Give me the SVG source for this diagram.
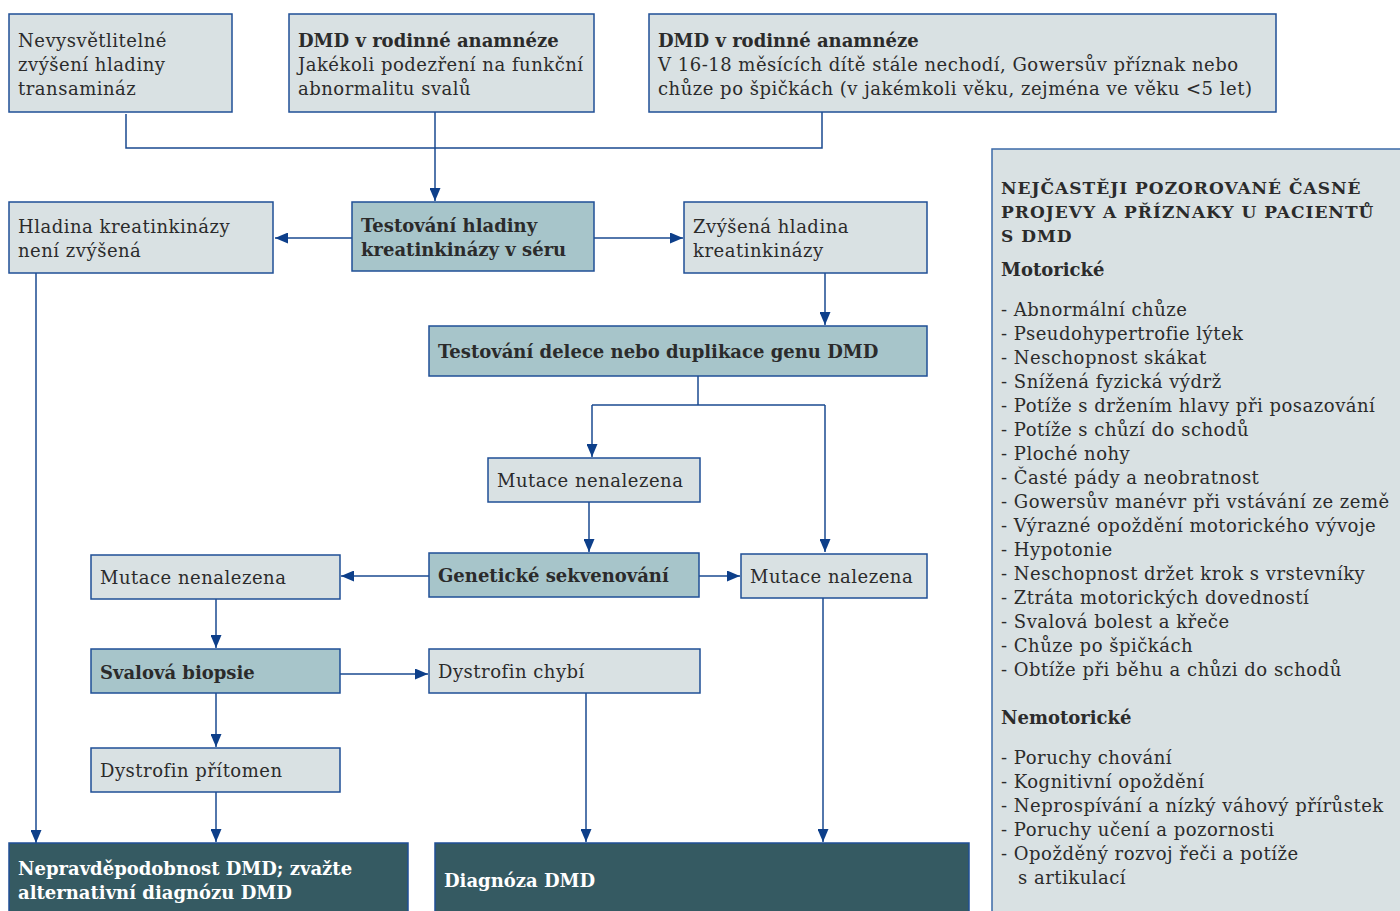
<svg xmlns="http://www.w3.org/2000/svg" width="1400" height="911" viewBox="0 0 1400 911">
<style>
text{font-family:"DejaVu Serif","Liberation Serif",serif;font-size:18px;letter-spacing:0.5px;fill:#2b2b2b}
.b{font-weight:bold;letter-spacing:0}
.w{fill:#ffffff;font-weight:bold;letter-spacing:0}
.l{fill:#d9e1e3;stroke:#1f4f96;stroke-width:1.5}
.m{fill:#a7c5ca;stroke:#1f4f96;stroke-width:1.5}
.d{fill:#355a62;stroke:#1f4f96;stroke-width:1.5}
.c{fill:none;stroke:#1a4a90;stroke-width:1.5}
.t{font-weight:bold;letter-spacing:1px;font-size:17px}
</style>
<defs>
<marker id="ar" viewBox="0 0 13 11" refX="13" refY="5.5" markerWidth="13" markerHeight="11" markerUnits="userSpaceOnUse" orient="auto">
<path d="M0,0 L13,5.5 L0,11 z" fill="#0d3f8a"/>
</marker>
</defs>
<rect width="1400" height="911" fill="#ffffff"/>
<g id="connectors">
<path class="c" d="M126,114 V148 H822 V112"/>
<path class="c" d="M435,112 V201" marker-end="url(#ar)"/>
<path class="c" d="M352,238 H275" marker-end="url(#ar)"/>
<path class="c" d="M594,238 H683" marker-end="url(#ar)"/>
<path class="c" d="M36,273 V843" marker-end="url(#ar)"/>
<path class="c" d="M825,273 V325" marker-end="url(#ar)"/>
<path class="c" d="M698,376 V405"/>
<path class="c" d="M592,405 H825"/>
<path class="c" d="M592,405 V457" marker-end="url(#ar)"/>
<path class="c" d="M825,405 V552" marker-end="url(#ar)"/>
<path class="c" d="M589,502 V552" marker-end="url(#ar)"/>
<path class="c" d="M429,576 H341" marker-end="url(#ar)"/>
<path class="c" d="M699,576 H740" marker-end="url(#ar)"/>
<path class="c" d="M216,599 V648" marker-end="url(#ar)"/>
<path class="c" d="M340,674 H428" marker-end="url(#ar)"/>
<path class="c" d="M216,693 V747" marker-end="url(#ar)"/>
<path class="c" d="M216,792 V842" marker-end="url(#ar)"/>
<path class="c" d="M586,693 V842" marker-end="url(#ar)"/>
<path class="c" d="M823,598 V842" marker-end="url(#ar)"/>
</g>
<g id="n1"><rect class="l" x="9" y="14" width="223" height="98"/>
<text x="18" y="47">Nevysvětlitelné</text><text x="18" y="71">zvýšení hladiny</text><text x="18" y="95">transamináz</text></g>
<g id="n2"><rect class="l" x="289" y="14" width="305" height="98"/>
<text x="298" y="47" class="b">DMD v rodinné anamnéze</text><text x="298" y="71">Jakékoli podezření na funkční</text><text x="298" y="95">abnormalitu svalů</text></g>
<g id="n3"><rect class="l" x="649" y="14" width="627" height="98"/>
<text x="658" y="47" class="b">DMD v rodinné anamnéze</text><text x="658" y="71">V 16-18 měsících dítě stále nechodí, Gowersův příznak nebo</text><text x="658" y="95">chůze po špičkách (v jakémkoli věku, zejména ve věku &lt;5 let)</text></g>
<g id="n4"><rect class="l" x="9" y="202" width="264" height="71"/>
<text x="18" y="233">Hladina kreatinkinázy</text><text x="18" y="257">není zvýšená</text></g>
<g id="n5"><rect class="m" x="352" y="202" width="242" height="69"/>
<text x="361" y="232" class="b">Testování hladiny</text><text x="361" y="256" class="b">kreatinkinázy v séru</text></g>
<g id="n6"><rect class="l" x="684" y="202" width="243" height="71"/>
<text x="693" y="233">Zvýšená hladina</text><text x="693" y="257">kreatinkinázy</text></g>
<g id="n7"><rect class="m" x="429" y="326" width="498" height="50"/>
<text x="438" y="358" class="b">Testování delece nebo duplikace genu DMD</text></g>
<g id="n8"><rect class="l" x="488" y="458" width="212" height="44"/>
<text x="497" y="487">Mutace nenalezena</text></g>
<g id="n9"><rect class="m" x="429" y="553" width="270" height="44"/>
<text x="438" y="582" class="b">Genetické sekvenování</text></g>
<g id="n10"><rect class="l" x="741" y="554" width="186" height="44"/>
<text x="750" y="583">Mutace nalezena</text></g>
<g id="n11"><rect class="l" x="91" y="555" width="249" height="44"/>
<text x="100" y="584">Mutace nenalezena</text></g>
<g id="n12"><rect class="m" x="91" y="649" width="249" height="44"/>
<text x="100" y="679" class="b">Svalová biopsie</text></g>
<g id="n13"><rect class="l" x="429" y="649" width="271" height="44"/>
<text x="438" y="678">Dystrofin chybí</text></g>
<g id="n14"><rect class="l" x="91" y="748" width="249" height="44"/>
<text x="100" y="777">Dystrofin přítomen</text></g>
<g id="n15"><rect class="d" x="9" y="843" width="399" height="72"/>
<text x="18" y="875" class="w">Nepravděpodobnost DMD; zvažte</text><text x="18" y="899" class="w">alternativní diagnózu DMD</text></g>
<g id="n16"><rect class="d" x="435" y="843" width="534" height="72"/>
<text x="444" y="887" class="w">Diagnóza DMD</text></g>
<g id="panel"><rect x="992" y="149" width="420" height="770" fill="#d9e1e3" stroke="#3b6aa8" stroke-width="1.5"/>
<text x="1001" y="194" class="t">NEJČASTĚJI POZOROVANÉ ČASNÉ</text>
<text x="1001" y="218" class="t">PROJEVY A PŘÍZNAKY U PACIENTŮ</text>
<text x="1001" y="242" class="t">S DMD</text>
<text x="1001" y="276" class="b">Motorické</text>
<text x="1001" y="316">- Abnormální chůze</text>
<text x="1001" y="340">- Pseudohypertrofie lýtek</text>
<text x="1001" y="364">- Neschopnost skákat</text>
<text x="1001" y="388">- Snížená fyzická výdrž</text>
<text x="1001" y="412">- Potíže s držením hlavy při posazování</text>
<text x="1001" y="436">- Potíže s chůzí do schodů</text>
<text x="1001" y="460">- Ploché nohy</text>
<text x="1001" y="484">- Časté pády a neobratnost</text>
<text x="1001" y="508">- Gowersův manévr při vstávání ze země</text>
<text x="1001" y="532">- Výrazné opoždění motorického vývoje</text>
<text x="1001" y="556">- Hypotonie</text>
<text x="1001" y="580">- Neschopnost držet krok s vrstevníky</text>
<text x="1001" y="604">- Ztráta motorických dovedností</text>
<text x="1001" y="628">- Svalová bolest a křeče</text>
<text x="1001" y="652">- Chůze po špičkách</text>
<text x="1001" y="676">- Obtíže při běhu a chůzi do schodů</text>
<text x="1001" y="724" class="b">Nemotorické</text>
<text x="1001" y="764">- Poruchy chování</text>
<text x="1001" y="788">- Kognitivní opoždění</text>
<text x="1001" y="812">- Neprospívání a nízký váhový přírůstek</text>
<text x="1001" y="836">- Poruchy učení a pozornosti</text>
<text x="1001" y="860">- Opožděný rozvoj řeči a potíže</text>
<text x="1018" y="884">s artikulací</text>
</g>
</svg>
